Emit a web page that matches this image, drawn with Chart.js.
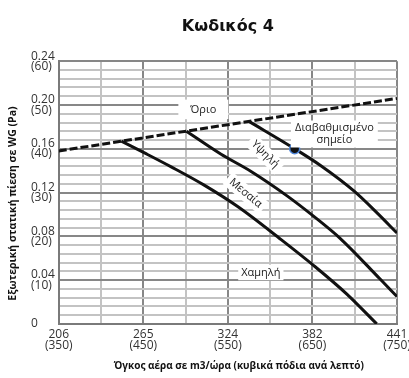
<!DOCTYPE html>
<html>
<head>
<meta charset="utf-8">
<script src="https://cdn.jsdelivr.net/npm/chart.js@4.4.1/dist/chart.umd.min.js"></script>
<style>
  html, body { margin: 0; padding: 0; background: #fff; overflow: hidden; }
  #wrap { width: 409px; height: 378px; }
</style>
</head>
<body>
<div id="wrap"><canvas id="fanChart" width="409" height="378"></canvas></div>
<script>
// Airflow axis: cubic feet per minute, labelled with the matching m3/h values
const xTicksCfm = [350, 450, 550, 650, 750];
const xTicksM3h = [206, 265, 324, 382, 441];
// Pressure axis: inches water gauge, labelled with the matching pascal values
const yTicksInWG = [0, 0.04, 0.08, 0.12, 0.16, 0.20, 0.24];
const yTicksPa = [0, 10, 20, 30, 40, 50, 60];

// Limit line (Όριο)
const limitCfm = [350, 750];
const limitWG = [0.158, 0.206];

// Fan speed curves
const lowCfm = [424, 452, 483, 522, 562, 613, 652, 691, 726];
const lowWG = [0.167, 0.156, 0.1435, 0.1268, 0.107, 0.077, 0.053, 0.027, 0];
const medCfm = [501, 542, 577, 620, 652, 683, 730, 750];
const medWG = [0.176, 0.155, 0.1395, 0.117, 0.098, 0.078, 0.041, 0.025];
const highCfm = [575, 629, 660, 699, 727, 750];
const highWG = [0.185, 0.160, 0.1445, 0.1215, 0.101, 0.083];

// Rated operating point
const ratedCfm = [629];
const ratedWG = [0.16];

// Curve captions, anchored in data units (cfm, in. WG)
const captions = [
  { text: ['Όριο'], cfm: 521, wg: 0.196, angle: 0, padX: 12, padY: 4 },
  { text: ['Διαβαθμισμένο', 'σημείο'], cfm: 676, wg: 0.1735, angle: 0, padX: 4, padY: 2 },
  { text: ['Υψηλή'], cfm: 594, wg: 0.155, angle: 45, padX: 4, padY: 2 },
  { text: ['Μεσαία'], cfm: 571, wg: 0.1195, angle: 40, padX: 4, padY: 2 },
  { text: ['Χαμηλή'], cfm: 589, wg: 0.047, angle: 0, padX: 3, padY: 2 }
];

const xTitle = 'Όγκος αέρα σε m3/ώρα (κυβικά πόδια ανά λεπτό)';
const yTitle = 'Εξωτερική στατική πίεση σε WG (Pa)';

const pts = (xs, ys) => xs.map((x, i) => ({ x: x, y: ys[i] }));
const near = (a, b) => Math.abs(a - b) < 1e-6;

// grid positions: minor every 50 cfm / 0.008 in. WG
const xGrid = [];
for (let v = 350; v <= 750; v += 50) xGrid.push(v);
const yGrid = [];
for (let i = 0; i <= 30; i++) yGrid.push(+(i * 0.008).toFixed(3));

const majorX = v => xTicksCfm.some(t => near(t, v));
const majorY = v => yTicksInWG.some(t => near(t, v));

const captionPlugin = {
  id: 'captions',
  afterDatasetsDraw(chart) {
    const { ctx, scales } = chart;
    ctx.save();
    ctx.font = '11px "Open Sans"';
    ctx.textAlign = 'center';
    ctx.textBaseline = 'middle';
    captions.forEach(c => {
      const px = scales.x.getPixelForValue(c.cfm);
      const py = scales.y.getPixelForValue(c.wg);
      const lh = 11.5;
      const w = Math.max(...c.text.map(t => ctx.measureText(t).width));
      const h = lh * c.text.length;
      ctx.save();
      ctx.translate(px, py);
      ctx.rotate(c.angle * Math.PI / 180);
      ctx.fillStyle = '#fff';
      ctx.fillRect(-w / 2 - c.padX, -h / 2 - c.padY, w + 2 * c.padX, h + 2 * c.padY);
      ctx.fillStyle = '#1a1a1a';
      c.text.forEach((t, i) => ctx.fillText(t, 0, -h / 2 + lh / 2 + i * lh));
      ctx.restore();
    });
    ctx.restore();
  }
};

const axisTitlePlugin = {
  id: 'axisTitles',
  afterDraw(chart) {
    const { ctx, chartArea: a } = chart;
    ctx.save();
    ctx.fillStyle = '#111';
    ctx.textAlign = 'center';
    ctx.textBaseline = 'middle';
    ctx.font = 'bold 10px "Open Sans"';
    ctx.fillText(xTitle, (a.left + a.right) / 2 + 11, a.bottom + 42);
    ctx.font = 'bold 10.5px "Open Sans"';
    ctx.translate(13, (a.top + a.bottom) / 2 + 11);
    ctx.rotate(-Math.PI / 2);
    ctx.fillText(yTitle, 0, 0);
    ctx.restore();
  }
};

const curve = (label, xs, ys, dash) => ({
  label: label,
  data: pts(xs, ys),
  showLine: true,
  borderColor: '#111',
  borderWidth: 3,
  borderDash: dash || [],
  pointRadius: 0,
  fill: false,
  cubicInterpolationMode: 'monotone'
});

new Chart(document.getElementById('fanChart'), {
  type: 'scatter',
  data: {
    datasets: [
      {
        label: 'Διαβαθμισμένο σημείο',
        data: pts(ratedCfm, ratedWG),
        pointRadius: 5,
        pointBackgroundColor: '#111',
        pointBorderColor: '#4f86d9',
        pointBorderWidth: 1.5,
        showLine: false
      },
      curve('Όριο', limitCfm, limitWG, [8, 3]),
      curve('Υψηλή', highCfm, highWG),
      curve('Μεσαία', medCfm, medWG),
      curve('Χαμηλή', lowCfm, lowWG)
    ]
  },
  options: {
    responsive: false,
    animation: false,
    events: [],
    layout: { padding: { left: 31, right: 0, top: 0, bottom: 22 } },
    plugins: {
      legend: { display: false },
      tooltip: { enabled: false },
      title: {
        display: true,
        text: 'Κωδικός 4',
        fullSize: false,
        color: '#111',
        font: { family: 'DejaVu Sans', size: 16, weight: 'bold' },
        padding: { top: 17, bottom: 25 }
      }
    },
    scales: {
      x: {
        type: 'linear',
        min: 350,
        max: 750,
        afterBuildTicks: s => { s.ticks = xGrid.map(v => ({ value: v })); },
        afterFit: s => { s.paddingRight = 12; },
        border: { display: true, color: '#7a7a7a', width: 2 },
        grid: {
          drawTicks: false,
          color: c => majorX(c.tick.value) ? '#878787' : '#c3c3c3',
          lineWidth: 2
        },
        ticks: {
          padding: 5,
          color: '#333',
          maxRotation: 0,
          autoSkip: false,
          font: { family: 'Open Sans', size: 12, lineHeight: 0.92 },
          callback: v => {
            const i = xTicksCfm.findIndex(t => near(t, v));
            return i < 0 ? '' : [String(xTicksM3h[i]), '(' + xTicksCfm[i] + ')'];
          }
        }
      },
      y: {
        type: 'linear',
        min: 0,
        max: 0.24,
        afterBuildTicks: s => { s.ticks = yGrid.map(v => ({ value: v })); },
        border: { display: true, color: '#7a7a7a', width: 2 },
        grid: {
          drawTicks: false,
          color: c => majorY(c.tick.value) ? '#878787' : '#c3c3c3',
          lineWidth: 2
        },
        ticks: {
          padding: 2,
          color: '#333',
          crossAlign: 'far',
          autoSkip: false,
          font: { family: 'Open Sans', size: 12, lineHeight: 0.85 },
          callback: v => {
            const i = yTicksInWG.findIndex(t => near(t, v));
            if (i < 0) return '';
            if (yTicksPa[i] === 0) return '0';
            return [yTicksInWG[i].toFixed(2), '(' + yTicksPa[i] + ')'];
          }
        }
      }
    }
  },
  plugins: [captionPlugin, axisTitlePlugin]
});
</script>
</body>
</html>
